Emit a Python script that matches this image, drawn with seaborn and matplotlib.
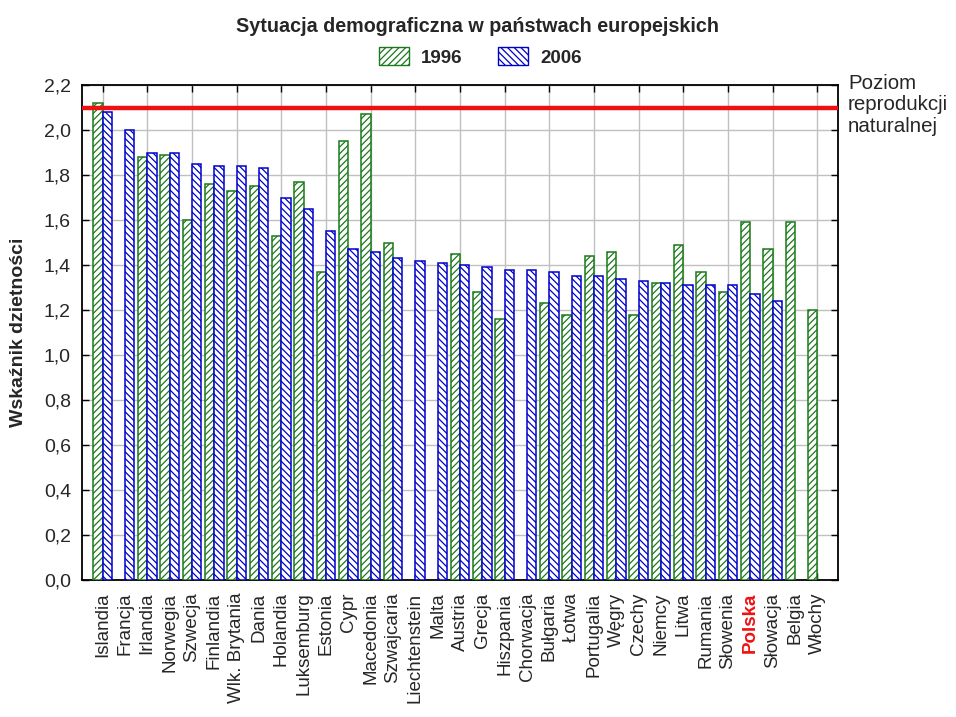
import numpy as np
import pandas as pd
import matplotlib
matplotlib.use("Agg")
import matplotlib.pyplot as plt
from matplotlib.patches import Patch
from matplotlib.ticker import MultipleLocator, FuncFormatter
import seaborn as sns

countries = ["Islandia", "Francja", "Irlandia", "Norwegia", "Szwecja", "Finlandia",
             "Wlk. Brytania", "Dania", "Holandia", "Luksemburg", "Estonia", "Cypr",
             "Macedonia", "Szwajcaria", "Liechtenstein", "Malta", "Austria", "Grecja",
             "Hiszpania", "Chorwacja", "Bułgaria", "Łotwa", "Portugalia", "Węgry",
             "Czechy", "Niemcy", "Litwa", "Rumania", "Słowenia", "Polska", "Słowacja",
             "Belgia", "Włochy"]
v1996 = [2.12, np.nan, 1.88, 1.89, 1.60, 1.76, 1.73, 1.75, 1.53, 1.77, 1.37, 1.95,
         2.07, 1.50, np.nan, np.nan, 1.45, 1.28, 1.16, np.nan, 1.23, 1.18, 1.44, 1.46,
         1.18, 1.32, 1.49, 1.37, 1.28, 1.59, 1.47, 1.59, 1.20]
v2006 = [2.08, 2.00, 1.90, 1.90, 1.85, 1.84, 1.84, 1.83, 1.70, 1.65, 1.55, 1.47,
         1.46, 1.43, 1.42, 1.41, 1.40, 1.39, 1.38, 1.38, 1.37, 1.35, 1.35, 1.34,
         1.33, 1.32, 1.31, 1.31, 1.31, 1.27, 1.24, np.nan, np.nan]
years = ["1996", "2006"]
replacement_level = 2.1
title = "Sytuacja demograficzna w państwach europejskich"
ylabel = "Wskaźnik dzietności"
line_label = "Poziom\nreprodukcji\nnaturalnej"
highlight = "Polska"

sns.set_theme(style="white")
plt.rcParams['font.family'] = ['Liberation Sans', 'DejaVu Sans']
plt.rcParams['hatch.linewidth'] = 0.9

df = pd.DataFrame({
    "kraj": countries * 2,
    "rok": [years[0]] * len(countries) + [years[1]] * len(countries),
    "wartosc": v1996 + v2006,
}).dropna()

edge_colors = {"1996": "#1a7a1a", "2006": "#0000cc"}
hatches = {"1996": "/////", "2006": "\\\\\\\\\\"}

fig = plt.figure(figsize=(9.56, 7.17), dpi=100)
ax = fig.add_axes([82 / 956, 1 - 580 / 717, (838 - 82) / 956, (580 - 85) / 717])

sns.barplot(data=df, x="kraj", y="wartosc", hue="rok", order=countries,
            hue_order=years, palette=edge_colors, width=0.84, ax=ax,
            legend=False, errorbar=None, zorder=3)

for cont, yr in zip(ax.containers, years):
    for p in cont:
        p.set_facecolor("white")
        p.set_edgecolor(edge_colors[yr])
        p.set_hatch(hatches[yr])
        p.set_linewidth(1.1)

ax.axhline(replacement_level, color="#ee1111", lw=3.2, zorder=4)

ax.set_xlim(-0.92, len(countries) - 1 + 0.92)
ax.set_ylim(0, 2.2)
ax.yaxis.set_major_locator(MultipleLocator(0.2))
ax.yaxis.set_major_formatter(FuncFormatter(lambda v, pos: f"{v:.1f}".replace(".", ",")))
ax.xaxis.set_minor_locator(MultipleLocator(2))
ax.xaxis.remove_overlapping_locs = False

ax.set_axisbelow(True)
ax.grid(False)
ax.grid(True, axis="y", which="major", color="#c0c0c0", lw=1)
ax.grid(True, axis="x", which="minor", color="#c0c0c0", lw=1)

ax.tick_params(axis="x", which="major", length=0, pad=9, labelsize=13.5,
               labelrotation=90)
ax.tick_params(axis="x", which="minor", direction="in", length=5, top=True,
               bottom=True, width=1, color="black")
ax.tick_params(axis="y", which="major", direction="in", length=5, left=True,
               right=True, labelsize=14, pad=8, width=1, color="black")
for lbl in ax.get_xticklabels():
    lbl.set_ha("center")
    lbl.set_va("top")
    if lbl.get_text() == highlight:
        lbl.set_color("#ee1111")
        lbl.set_fontweight("bold")

for s in ax.spines.values():
    s.set_color("black")
    s.set_linewidth(1.3)
    s.set_visible(True)

ax.set_xlabel("")
ax.set_ylabel(ylabel, fontsize=14, fontweight="bold", labelpad=12)

fig.text(477 / 956, 1 - 27 / 717, title, ha="center", va="center",
         fontsize=14.2, fontweight="bold")
fig.text(848 / 956, 1 - 74 / 717, line_label, ha="left", va="top", fontsize=14.8,
         linespacing=1.15)

handles = [Patch(facecolor="white", edgecolor=edge_colors[y], hatch=hatches[y], lw=1)
           for y in years]
leg = fig.legend(handles, years, loc="center", bbox_to_anchor=(480 / 956, 1 - 57 / 717),
                 ncol=2, frameon=False, handlelength=1.6, handleheight=1.05,
                 handletextpad=0.65, columnspacing=1.9,
                 prop={"size": 13.5, "weight": "bold"})

fig.savefig("out.png", dpi=100)
